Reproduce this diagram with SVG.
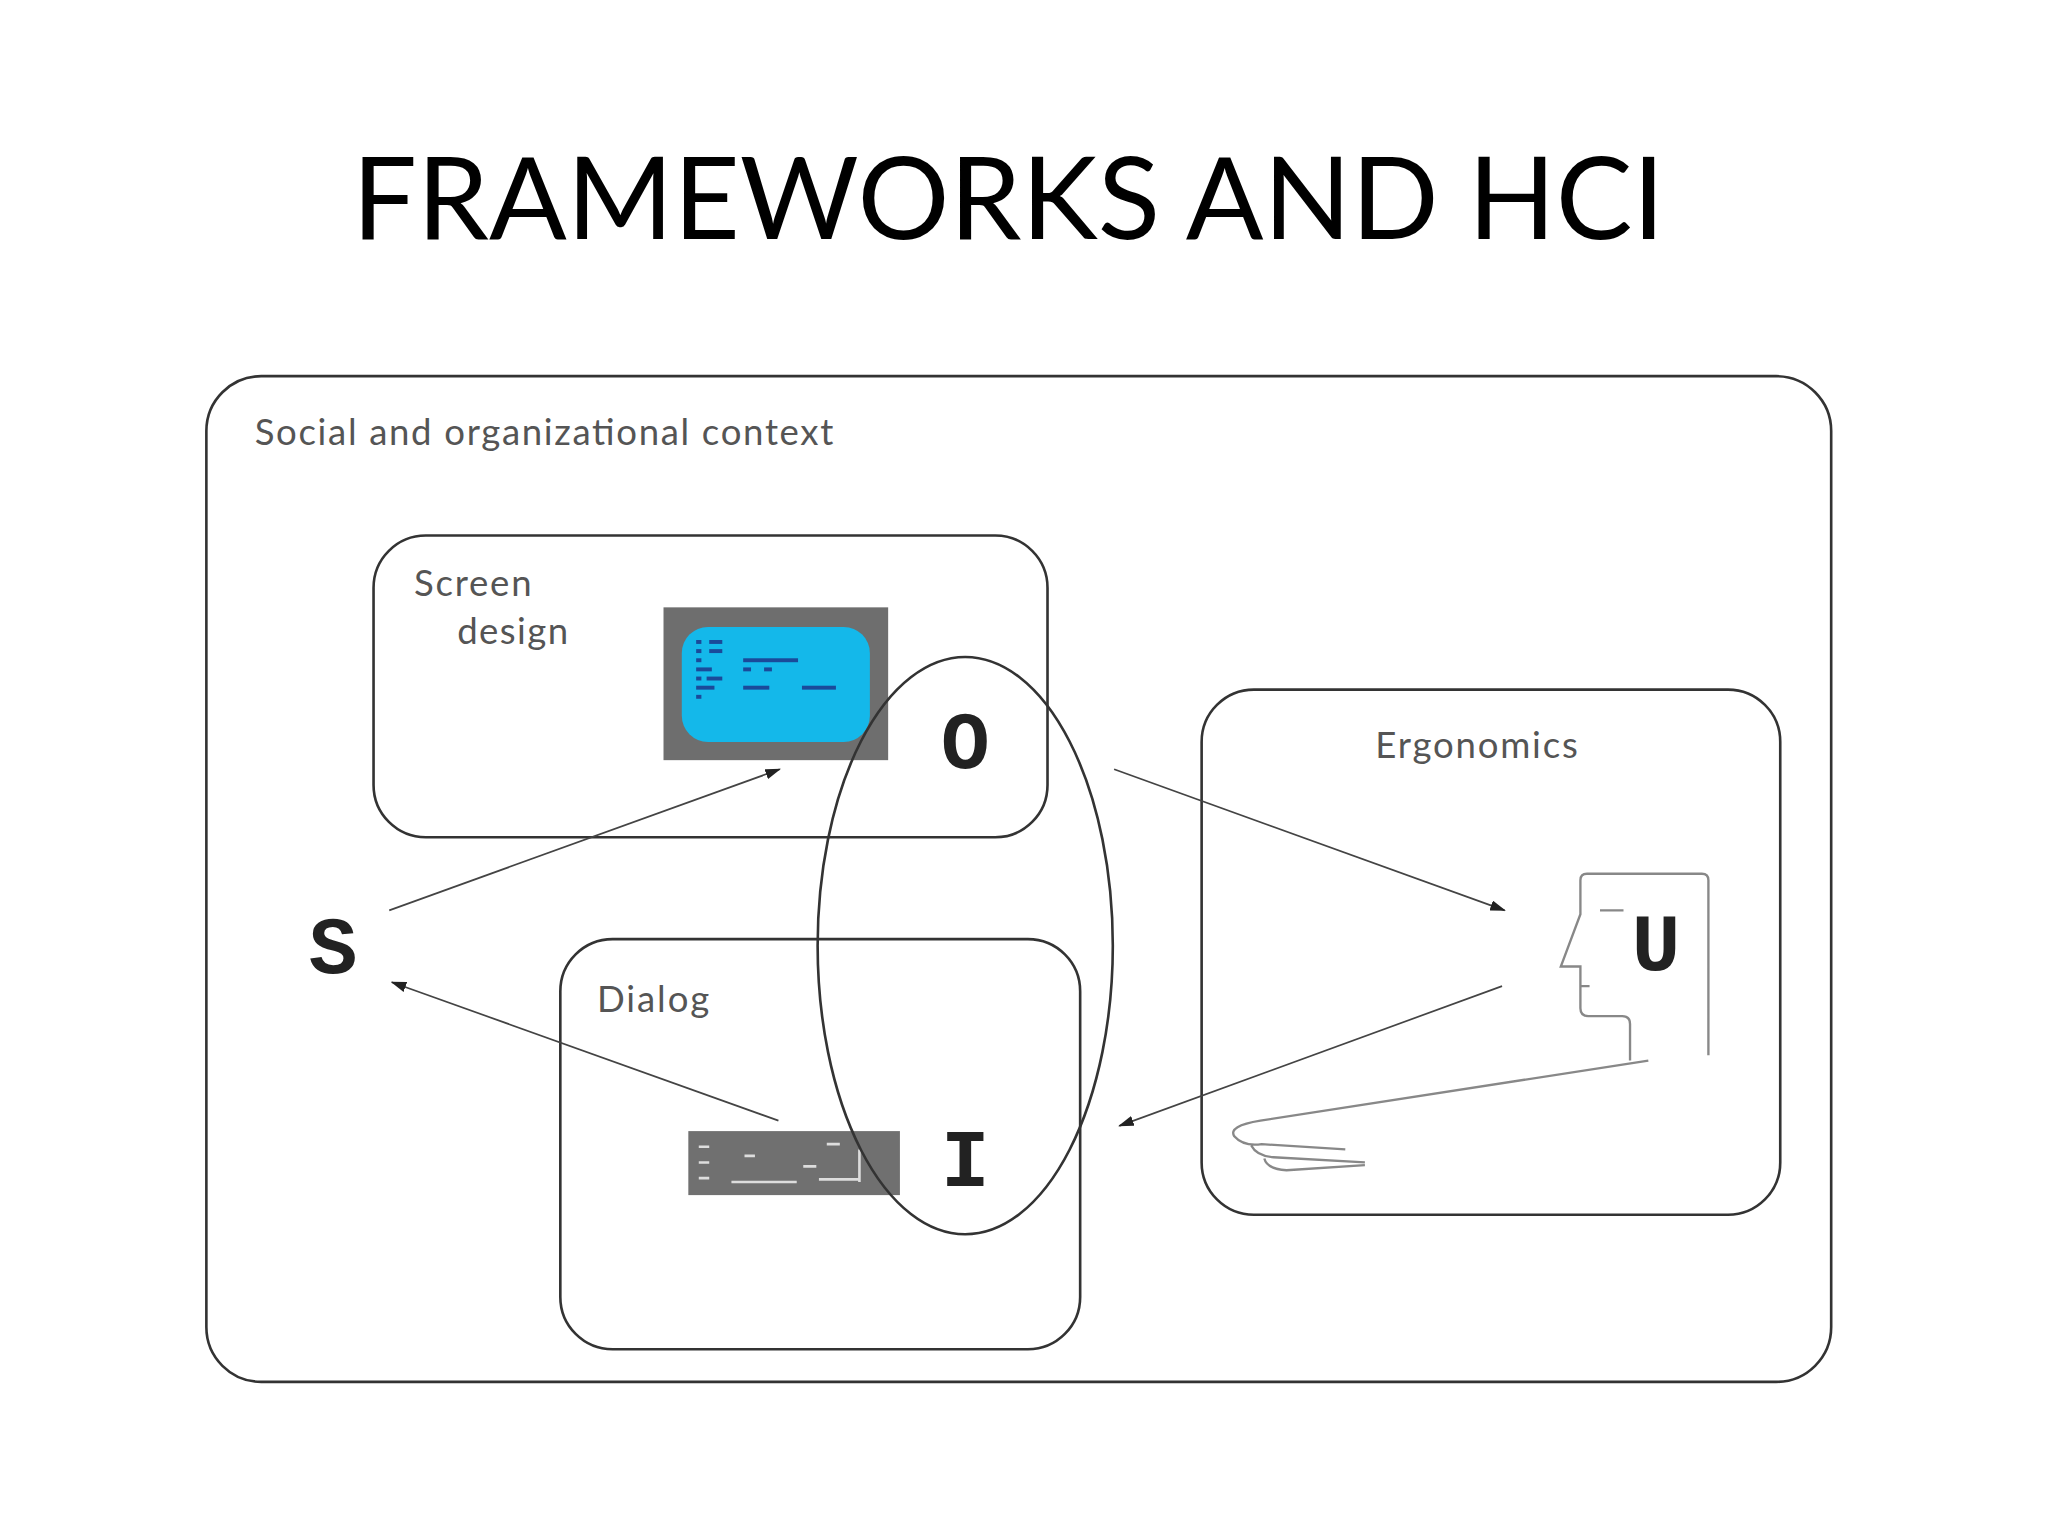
<svg xmlns="http://www.w3.org/2000/svg" width="2048" height="1536" viewBox="0 0 2048 1536">
<style>
.box{fill:none;stroke:#333;stroke-width:2}
.lbl{font-family:Lato,"Liberation Sans",sans-serif;font-size:28px;fill:#555}
.big{font-family:"Liberation Mono",monospace;font-weight:bold;font-size:62px;fill:#222}
.con{stroke:#444;stroke-width:1.3;fill:none;marker-end:url(#ah)}
.fig{stroke:#888;stroke-width:1.8;fill:none}
.dot{fill:#1a4a9a}
</style>
<defs><marker id="ah" markerWidth="12" markerHeight="8" refX="11" refY="4" orient="auto" markerUnits="userSpaceOnUse"><path d="M0,0 L12,4 L0,8 Z" fill="#222"/></marker></defs>
<rect width="2048" height="1536" fill="#fff"/>
<g transform="scale(1.30612)">
<text x="772" y="183" text-anchor="middle" font-family="Lato,'Liberation Sans',sans-serif" font-size="88" fill="#000">FRAMEWORKS AND HCI</text>
<g id="context"><rect class="box" x="158" y="288" width="1244" height="770" rx="42"/><text class="lbl" x="195" y="341" textLength="443">Social and organizational context</text></g>
<g id="screen-design"><rect class="box" x="286" y="410" width="516" height="231" rx="40" stroke="#555"/>
<text class="lbl" x="317" y="456" textLength="90">Screen</text><text class="lbl" x="350" y="493" textLength="85">design</text>
<rect x="508" y="465" width="172" height="117" fill="#6e6e6e"/><rect x="522" y="480" width="144" height="88" rx="20" fill="#14b8ea"/>
<rect class="dot" x="533" y="490" width="4" height="3"/><rect class="dot" x="543" y="490" width="10" height="3"/><rect class="dot" x="533" y="497" width="4" height="3"/><rect class="dot" x="543" y="497" width="10" height="3"/><rect class="dot" x="533" y="504" width="4" height="3"/><rect class="dot" x="569" y="504" width="42" height="3"/><rect class="dot" x="533" y="511" width="12" height="3"/><rect class="dot" x="569" y="511" width="6" height="3"/><rect class="dot" x="585" y="511" width="6" height="3"/><rect class="dot" x="533" y="518" width="4" height="3"/><rect class="dot" x="541" y="518" width="12" height="3"/><rect class="dot" x="533" y="525" width="14" height="3"/><rect class="dot" x="569" y="525" width="20" height="3"/><rect class="dot" x="614" y="525" width="26" height="3"/><rect class="dot" x="533" y="532" width="4" height="3"/>
<text class="big" x="739" y="588" text-anchor="middle">O</text></g>
<g id="dialog"><rect class="box" x="429" y="719" width="398" height="314" rx="40" stroke="#555"/>
<text class="lbl" x="457" y="775" textLength="86">Dialog</text>
<rect x="527" y="866" width="162" height="49" fill="#707070"/>
<path d="M535 878h8M535 890h8M535 902h8M570 885h8M560 905h50M615 893h10M633 876h10M627 903h30M658 880v25" stroke="#ddd" stroke-width="2"/>
<text class="big" x="739" y="908" text-anchor="middle">I</text></g>
<g id="ergonomics"><rect class="box" x="920" y="528" width="443" height="402" rx="40" stroke="#555"/>
<text class="lbl" x="1053" y="580" textLength="155">Ergonomics</text>
<path class="fig" d="M1308 808V674q0-5-5-5H1215q-5 0-5 5V700L1195 740H1210V772q0 6 6 6H1242q6 0 6 6V812"/>
<path class="fig" d="M1210 755h7M1225 697h18"/>
<path class="fig" d="M1262 812L965 858Q940 862 945 870Q952 878 966 876L1030 880M958 877Q962 885 975 886L1045 890M968 887Q970 895 985 896L1045 892"/>
<text class="big" x="1268" y="743" text-anchor="middle">U</text></g>
<g id="ellipse"><ellipse cx="739" cy="724" rx="113" ry="221" class="box"/></g>
<g id="S"><text class="big" x="255" y="745" text-anchor="middle">S</text></g>
<g id="connectors">
<line class="con" x1="298" y1="697" x2="597" y2="589"/>
<line class="con" x1="853" y1="589" x2="1152" y2="697"/>
<line class="con" x1="1150" y1="755" x2="857" y2="862"/>
<line class="con" x1="596" y1="858" x2="300" y2="752"/>
</g>
</g>
</svg>
